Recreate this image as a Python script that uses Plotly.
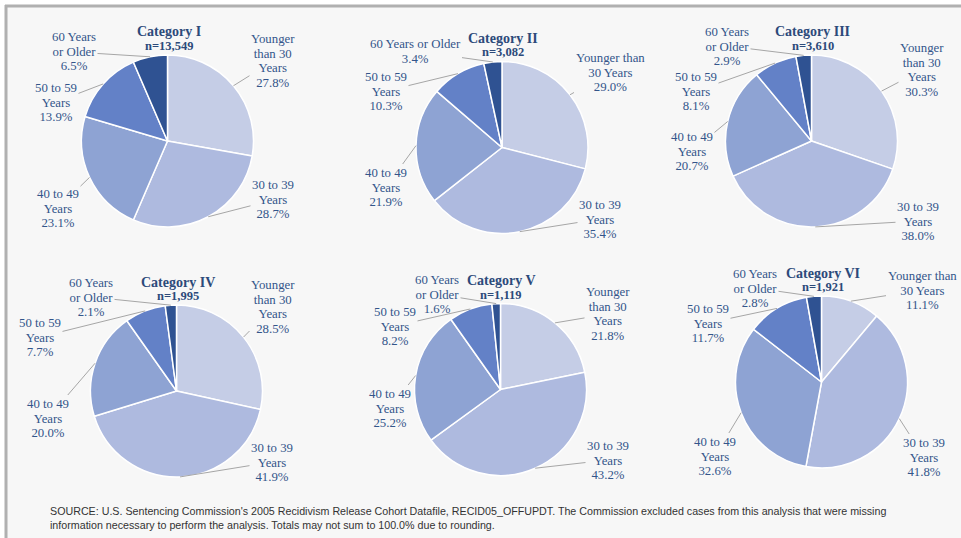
"""Age distribution of released offenders by criminal history category — six pies."""
import math
import plotly.graph_objects as go

W, H = 961, 538

# --- data -----------------------------------------------------------------
CATEGORIES = ["Category I", "Category II", "Category III",
              "Category IV", "Category V", "Category VI"]
N_COUNTS = ["13,549", "3,082", "3,610", "1,995", "1,119", "1,921"]
AGE_GROUPS = ["Younger than 30 Years", "30 to 39 Years", "40 to 49 Years",
              "50 to 59 Years", "60 Years or Older"]
CAT_I = [27.8, 28.7, 23.1, 13.9, 6.5]
CAT_II = [29.0, 35.4, 21.9, 10.3, 3.4]
CAT_III = [30.3, 38.0, 20.7, 8.1, 2.9]
CAT_IV = [28.5, 41.9, 20.0, 7.7, 2.1]
CAT_V = [21.8, 43.2, 25.2, 8.2, 1.6]
CAT_VI = [11.1, 41.8, 32.6, 11.7, 2.8]
VALUES = [CAT_I, CAT_II, CAT_III, CAT_IV, CAT_V, CAT_VI]
SOURCE = ("SOURCE: U.S. Sentencing Commission's 2005 Recidivism Release Cohort Datafile, "
          "RECID05_OFFUPDT. The Commission excluded cases from this analysis that were missing<br>"
          "information necessary to perform the analysis. Totals may not sum to 100.0% due to rounding.")

# --- layout / style -------------------------------------------------------
COLORS = ["#C5CDE6", "#AEBADF", "#8EA3D3", "#6381C7", "#2F5292"]
TXT = "#33558A"
TITLE_COL = "#2C4A7A"
SERIF = "Liberation Serif"

# pie centre (px) and radius (px)
GEOM = [(167.5, 141, 86), (502, 147.5, 86), (811.5, 141, 86),
        (176.5, 391, 86), (500.5, 389.5, 86), (821.5, 382, 86)]

WRAP_A = [["Younger", "than 30", "Years"], ["30 to 39", "Years"], ["40 to 49", "Years"],
          ["50 to 59", "Years"], ["60 Years", "or Older"]]
WRAP_B = [["Younger than", "30 Years"], ["30 to 39", "Years"], ["40 to 49", "Years"],
          ["50 to 59", "Years"], ["60 Years or Older"]]
WRAP_C = [["Younger than", "30 Years"], ["30 to 39", "Years"], ["40 to 49", "Years"],
          ["50 to 59", "Years"], ["60 Years", "or Older"]]
WRAPS = [WRAP_A, WRAP_B, WRAP_A, WRAP_A, WRAP_A, WRAP_C]

# label text centres (px), per pie, in AGE_GROUPS order
LABEL_POS = [
    [(273, 61), (273, 200), (58, 208), (56, 102), (74, 52)],
    [(610, 72), (600, 219), (386, 187), (386, 91), (415, 51)],
    [(922, 70), (918, 221), (692, 151), (696, 91), (727, 46)],
    [(273, 307), (272, 462), (48, 418), (40, 337), (91, 297)],
    [(608, 314), (608, 460), (390, 408), (395, 326), (437, 294)],
    [(922, 290), (924, 457), (715, 456), (708, 323), (755, 288)],
]

def px(x):
    return x / W

def py(y):
    return 1 - y / H

def label_text(lines, v):
    # base font sets the line pitch (1.3em); the span sets the glyph size
    parts = lines + [f"{v:.1f}%"]
    return "<br>".join(f"<span style='font-size:12.8px'>{p}</span>" for p in parts)

fig = go.Figure()
ann = []
for k, vals in enumerate(VALUES):
    cx, cy, r = GEOM[k]
    fig.add_trace(go.Pie(
        labels=AGE_GROUPS, values=vals, sort=False, direction="clockwise",
        rotation=0, textinfo="none", hoverinfo="label+percent",
        marker=dict(colors=COLORS, line=dict(color="white", width=1.5)),
        domain=dict(x=[px(cx - r), px(cx + r)], y=[py(cy + r), py(cy - r)]),
        showlegend=False))

    total = sum(vals)
    cum = 0.0
    for i, v in enumerate(vals):
        th = 2 * math.pi * (cum + v / 2) / total
        cum += v
        hx, hy = cx + r * math.sin(th), cy - r * math.cos(th)
        tx, ty = LABEL_POS[k][i]
        ann.append(dict(
            x=px(hx), y=py(hy), xref="paper", yref="paper",
            ax=tx - hx, ay=ty - hy, axref="pixel", ayref="pixel",
            xanchor="center", yanchor="middle",
            text=label_text(WRAPS[k][i], v), align="center",
            showarrow=True, arrowhead=0, arrowwidth=1, arrowcolor="#A6A6A6", standoff=0,
            font=dict(family=SERIF, size=11.2, color=TXT)))

    top = cy - r
    ann.append(dict(x=px(cx + 1), y=py(top - 23), xref="paper", yref="paper",
                    xanchor="center", yanchor="middle",
                    text=f"<b>{CATEGORIES[k]}</b>", showarrow=False,
                    font=dict(family=SERIF, size=14, color=TITLE_COL)))
    ann.append(dict(x=px(cx + 1), y=py(top - 9), xref="paper", yref="paper",
                    xanchor="center", yanchor="middle",
                    text=f"<b>n={N_COUNTS[k]}</b>", showarrow=False,
                    font=dict(family=SERIF, size=12.5, color=TITLE_COL)))

ann.append(dict(x=px(48), y=py(517.5), xref="paper", yref="paper",
                xanchor="left", yanchor="middle",
                text=SOURCE, showarrow=False, align="left",
                font=dict(family="Liberation Sans", size=10.7, color="#333333")))

shapes = [
    dict(type="rect", xref="paper", yref="paper", x0=px(6), x1=1, y0=0, y1=py(6),
         fillcolor="#F7F7F7", line=dict(width=0), layer="below"),
    dict(type="line", xref="paper", yref="paper", x0=px(5), x1=1, y0=py(6), y1=py(6),
         line=dict(color="#B0B0B0", width=3), layer="below"),
    dict(type="line", xref="paper", yref="paper", x0=px(6), x1=px(6), y0=0, y1=py(5),
         line=dict(color="#B0B0B0", width=3), layer="below"),
]

fig.update_layout(width=W, height=H, margin=dict(l=0, r=0, t=0, b=0),
                  paper_bgcolor="white", plot_bgcolor="white",
                  annotations=ann, shapes=shapes)
fig.write_html("out.html", config={"displayModeBar": False},
               post_script="document.body.style.margin='0';document.body.style.overflow='hidden';")
